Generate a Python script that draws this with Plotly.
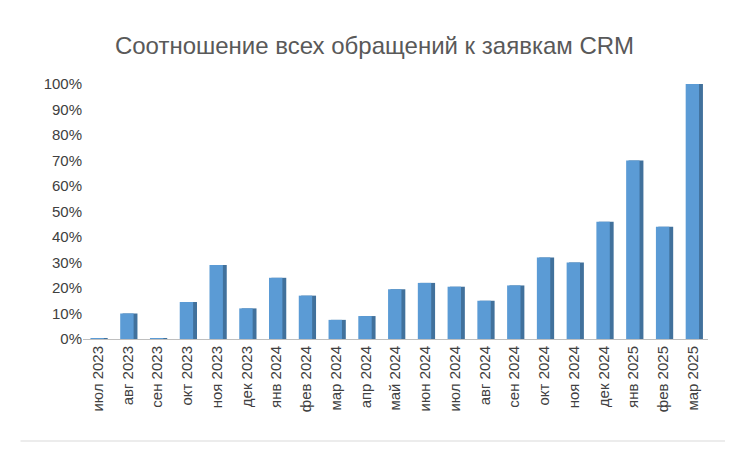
import plotly.graph_objects as go

months = ["июл 2023","авг 2023","сен 2023","окт 2023","ноя 2023","дек 2023","янв 2024","фев 2024","мар 2024","апр 2024","май 2024","июн 2024","июл 2024","авг 2024","сен 2024","окт 2024","ноя 2024","дек 2024","янв 2025","фев 2025","мар 2025"]
values = [0.3,10,0.3,14.5,29,12,24,17,7.5,9,19.5,22,20.5,15,21,32,30,46,70,44,100]
tick_vals = list(range(0,101,10))
tick_text = [f"{v}%" for v in tick_vals]

fig = go.Figure()
fig.add_bar(x=months, y=values, width=0.5, offset=-0.17, marker_color="#41719C",
            marker_line_width=0, hoverinfo="skip")
fig.add_bar(x=months, y=values, width=0.45, offset=-0.25, marker_color="#5B9BD5",
            marker_line_width=0)
fig.update_layout(
    width=733, height=455, barmode="overlay", showlegend=False,
    plot_bgcolor="white", paper_bgcolor="white",
    margin=dict(l=75, r=33, t=76, b=124),
    title=dict(text="Соотношение всех обращений к заявкам CRM", x=0.5, y=0.935,
               xanchor="center", font=dict(family="Liberation Sans, Arial", size=24, color="#595959")),
    font=dict(family="Liberation Sans, Arial", size=15, color="#404040"),
    xaxis=dict(tickangle=-90, showline=True, linecolor="#BFBFBF", ticks="", showgrid=False),
    yaxis=dict(range=[0,100], tickvals=tick_vals, ticktext=tick_text, showgrid=False,
               zeroline=False, showline=False, ticks=""),
    shapes=[dict(type="line", xref="paper", yref="paper", x0=-0.1, x1=1.05, y0=-0.4, y1=-0.4,
                 line=dict(color="#D9D9D9", width=1))],
)
fig.write_html("out.html")
